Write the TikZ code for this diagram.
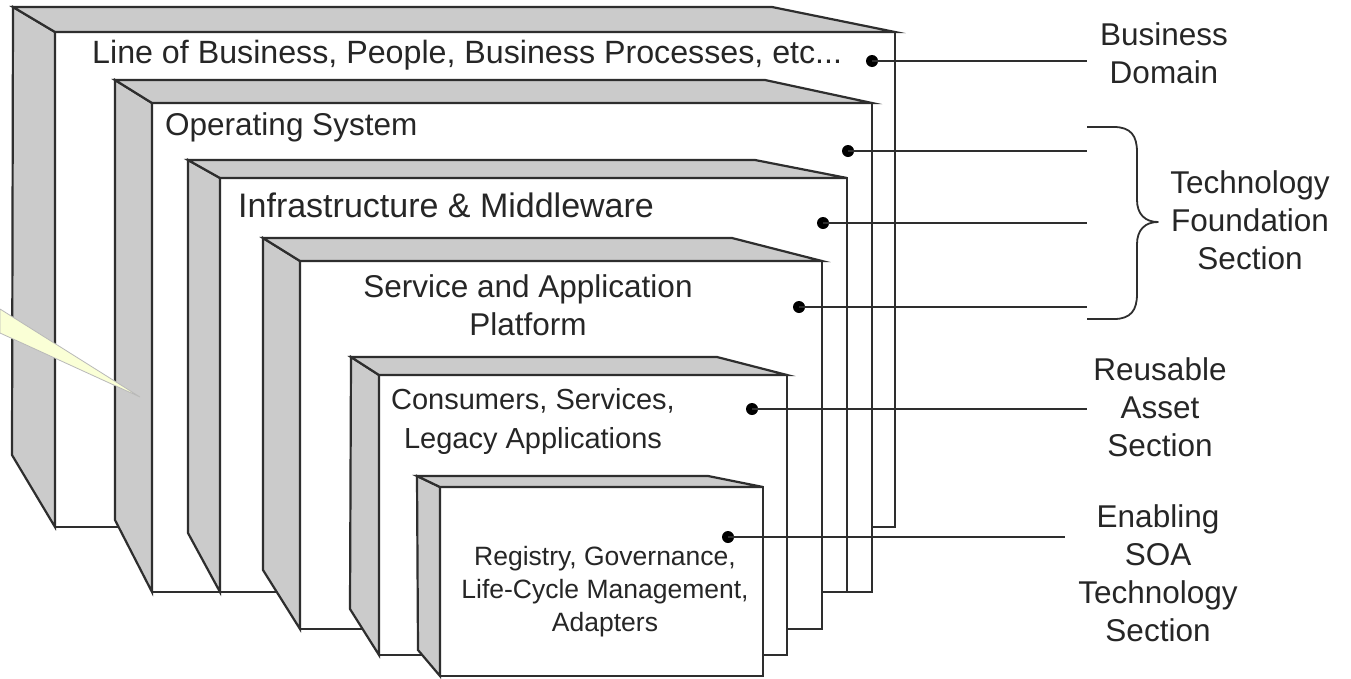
\documentclass[tikz,border=0pt]{standalone}
\usepackage{fontspec}
\setmainfont{Liberation Sans}
\definecolor{edgecol}{HTML}{2E2E2E}
\definecolor{facegray}{HTML}{CBCBCB}
\definecolor{textcol}{HTML}{262626}
\definecolor{calloutfill}{HTML}{FAFFD6}
\newcommand{\bigfont}{\fontsize{31.5}{38}\selectfont}
\newcommand{\smallfont}{\fontsize{26.5}{33}\selectfont}
\newcommand{\layerbox}[9]{%
  \filldraw[frontface] (#3,#4) rectangle (#6,#7);
  \filldraw[sideface] (#1,#2) -- (#3,#4) -- (#3,#7) -- (#8,#9) -- cycle;
  \filldraw[sideface] (#1,#2) -- (#5,#2) -- (#6,#4) -- (#3,#4) -- cycle;
  \draw[boxedge] (#3,#4) rectangle (#6,#7);
}
\tikzset{
  boxedge/.style={draw=edgecol, line width=2.2pt, line join=miter},
  frontface/.style={boxedge, fill=white},
  sideface/.style={boxedge, fill=facegray},
  conn/.style={draw=edgecol, line width=1.8pt},
  dotnode/.style={circle, fill=black, inner sep=0pt, minimum size=12pt},
  lbl/.style={font=\bigfont, text=textcol, inner sep=0pt, anchor=base},
  lblw/.style={lbl, anchor=base west},
  smalllbl/.style={font=\smallfont, text=textcol, inner sep=0pt, anchor=base},
  brace/.style={draw=edgecol, line width=1.8pt, line join=round},
  callout/.style={fill=calloutfill, draw=gray!55, line width=0.8pt}
}
\begin{document}
\begin{tikzpicture}[x=1pt, y=-1pt]
\useasboundingbox (0,0) rectangle (1351,678);

% nested boxes
\layerbox{13}{7}{55}{32}{772}{895}{527}{12}{455}
\layerbox{115}{80}{152}{103}{765}{872}{592}{115}{520}
\layerbox{188}{160}{220}{178}{755}{847}{592}{188}{533}
\layerbox{263}{238}{300}{261}{732}{822}{629}{263}{570}
\layerbox{351}{357}{379}{375}{717}{787}{655}{350}{609}
\layerbox{417}{476}{440}{487}{708}{763}{676}{418}{650}

% box texts
\node[lblw, font=\fontsize{32.2}{38}\selectfont] (t1) at (92,63) {Line of Business, People, Business Processes, etc...};
\node[lblw] (t2) at (165,135) {Operating System};
\node[lblw, font=\fontsize{34}{38}\selectfont] (t3) at (238,217) {Infrastructure \& Middleware};
\node[lbl] (t4) at (528,297) {\begin{tabular}[t]{@{}c@{}}Service and Application\\Platform\end{tabular}};
\node[lbl, font=\fontsize{29}{39}\selectfont] (t5) at (533,409) {\begin{tabular}[t]{@{}c@{}}Consumers, Services,\\Legacy Applications\end{tabular}};
\node[smalllbl] (t6) at (605,565) {\begin{tabular}[t]{@{}c@{}}Registry, Governance,\\Life-Cycle Management,\\Adapters\end{tabular}};

% callout pointer
\filldraw[callout] (0,309) -- (140,397) -- (0,333) -- cycle;

% dots and connectors
\node[dotnode] (d1) at (872,61) {};
\node[dotnode] (d2) at (848,151) {};
\node[dotnode] (d3) at (823,223) {};
\node[dotnode] (d4) at (799,307) {};
\node[dotnode] (d5) at (752,409) {};
\node[dotnode] (d6) at (728,537) {};
\coordinate (e1) at (1087,61);
\coordinate (e2) at (1087,151);
\coordinate (e3) at (1087,223);
\coordinate (e4) at (1087,307);
\coordinate (e5) at (1087,409);
\coordinate (e6) at (1065,537);
\draw[conn] (d1.center) -- (e1);
\draw[conn] (d2.center) -- (e2);
\draw[conn] (d3.center) -- (e3);
\draw[conn] (d4.center) -- (e4);
\draw[conn] (d5.center) -- (e5);
\draw[conn] (d6.center) -- (e6);

% brace
\coordinate (bt) at (1087,127);
\coordinate (bb) at (1087,319);
\coordinate (btip) at (1158,222);
\draw[brace] (bt) -- (1114,127) .. controls (1131,127) and (1137,136) .. (1137,152)
  -- (1137,200) .. controls (1137,214) and (1145,222) .. (btip)
  .. controls (1145,222) and (1137,230) .. (1137,244)
  -- (1137,294) .. controls (1137,310) and (1131,319) .. (1114,319) -- (bb);

% right labels
\node[lbl] (l1) at (1164,45) {\begin{tabular}[t]{@{}c@{}}Business\\Domain\end{tabular}};
\node[lbl] (l2) at (1250,193) {\begin{tabular}[t]{@{}c@{}}Technology\\Foundation\\Section\end{tabular}};
\node[lbl] (l3) at (1160,380) {\begin{tabular}[t]{@{}c@{}}Reusable\\Asset\\Section\end{tabular}};
\node[lbl] (l4) at (1158,527) {\begin{tabular}[t]{@{}c@{}}Enabling\\SOA\\Technology\\Section\end{tabular}};
\end{tikzpicture}
\end{document}
